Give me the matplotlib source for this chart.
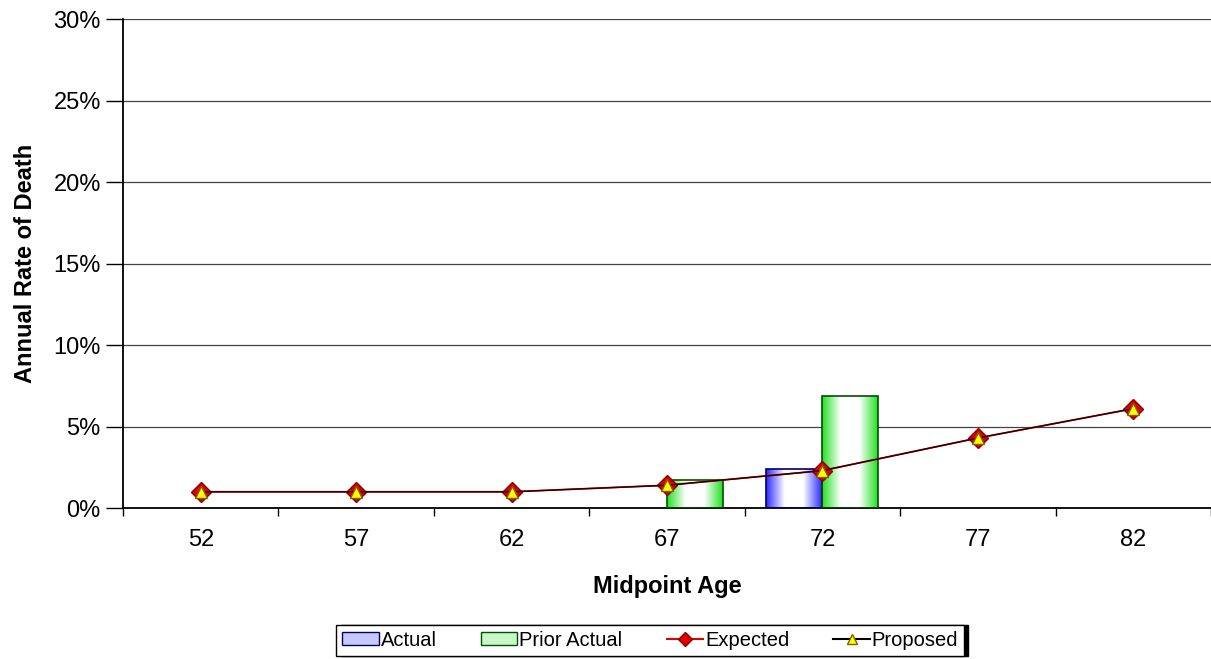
import numpy as np
import matplotlib.pyplot as plt
from matplotlib.patches import Patch
from matplotlib.lines import Line2D
from matplotlib.colors import LinearSegmentedColormap

plt.rcParams['font.family'] = ['Liberation Sans', 'DejaVu Sans']

ages = ['52', '57', '62', '67', '72', '77', '82']
actual = [np.nan, np.nan, np.nan, np.nan, 2.4, np.nan, np.nan]
prior_actual = [np.nan, np.nan, np.nan, 1.7, 6.9, np.nan, np.nan]
expected = [1.0, 1.0, 1.0, 1.4, 2.3, 4.3, 6.1]
proposed = [1.0, 1.0, 1.0, 1.4, 2.3, 4.3, 6.1]

fig = plt.figure(figsize=(12.11, 6.59), dpi=100)
ax = fig.add_axes([0.1016, 0.229, 0.8984, 0.742])

x = np.arange(len(ages))
w = 0.36


def gradient_bars(xs, vals, color, edge):
    cmap = LinearSegmentedColormap.from_list('g', [color, 'white', 'white', color])
    grad = np.linspace(0, 1, 256).reshape(1, -1)
    bars = ax.bar(xs, vals, width=w, align='edge', facecolor='none',
                  edgecolor=edge, linewidth=1.2, zorder=3)
    for b in bars:
        h = b.get_height()
        if np.isnan(h) or h == 0:
            continue
        x0 = b.get_x()
        im = ax.imshow(grad, cmap=cmap, aspect='auto', zorder=2.5,
                       extent=[x0, x0 + w, 0, h], interpolation='bicubic')
        im.set_clip_path(b)
    return bars


gradient_bars(x - w, actual, '#2b2bff', '#000060')
gradient_bars(x, prior_actual, '#22e022', '#005000')

ax.plot(x, expected, color='#e00000', lw=1.3, marker='D', ms=10,
        mfc='#dd0000', mec='#8b0000', zorder=4)
ax.plot(x, proposed, color='#200000', lw=1.0, marker='^', ms=9,
        mfc='#ffff00', mec='#806000', zorder=5)

ax.set_xlim(-0.5, len(ages) - 0.5)
ax.set_ylim(0, 30)
ax.set_yticks(np.arange(0, 31, 5))
ax.set_yticklabels([f'{v}%' for v in range(0, 31, 5)], fontsize=17)
ax.set_xticks(x)
ax.set_xticklabels(ages, fontsize=17)
ax.set_xticks(np.arange(-0.5, len(ages), 1), minor=True)
ax.tick_params(axis='x', which='major', length=0, pad=15)
ax.tick_params(axis='x', which='minor', length=6, width=1, direction='out')
ax.tick_params(axis='y', length=12, width=1, direction='out', pad=4)
ax.grid(axis='y', color='#444444', lw=0.9, zorder=0)
ax.set_axisbelow(True)
for s in ['top', 'right']:
    ax.spines[s].set_visible(False)
for s in ['left', 'bottom']:
    ax.spines[s].set_linewidth(1.3)

ax.set_xlabel('Midpoint Age', fontsize=17, fontweight='bold', labelpad=17)
ax.set_ylabel('Annual Rate of Death', fontsize=17, fontweight='bold', labelpad=12)

handles = [
    Patch(facecolor='#c8c8ff', edgecolor='#000060', label='Actual'),
    Patch(facecolor='#c8f8c8', edgecolor='#005000', label='Prior Actual'),
    Line2D([], [], color='#e00000', marker='D', ms=7, mfc='#dd0000',
           mec='#8b0000', label='Expected'),
    Line2D([], [], color='black', marker='^', ms=7, mfc='#ffff00',
           mec='#806000', label='Proposed'),
]
leg = fig.legend(handles=handles, loc='upper center', bbox_to_anchor=(0.537, 0.052),
                 ncol=4, fontsize=14.5, frameon=True, fancybox=False,
                 edgecolor='black', handlelength=1.8, handleheight=0.6,
                 columnspacing=2.2, handletextpad=0.1, borderpad=0.3,
                 borderaxespad=0,
                 shadow={'color': 'black', 'alpha': 1, 'ox': 3, 'oy': 0})
leg.get_frame().set_linewidth(1.0)

fig.savefig('out.png', dpi=100)
